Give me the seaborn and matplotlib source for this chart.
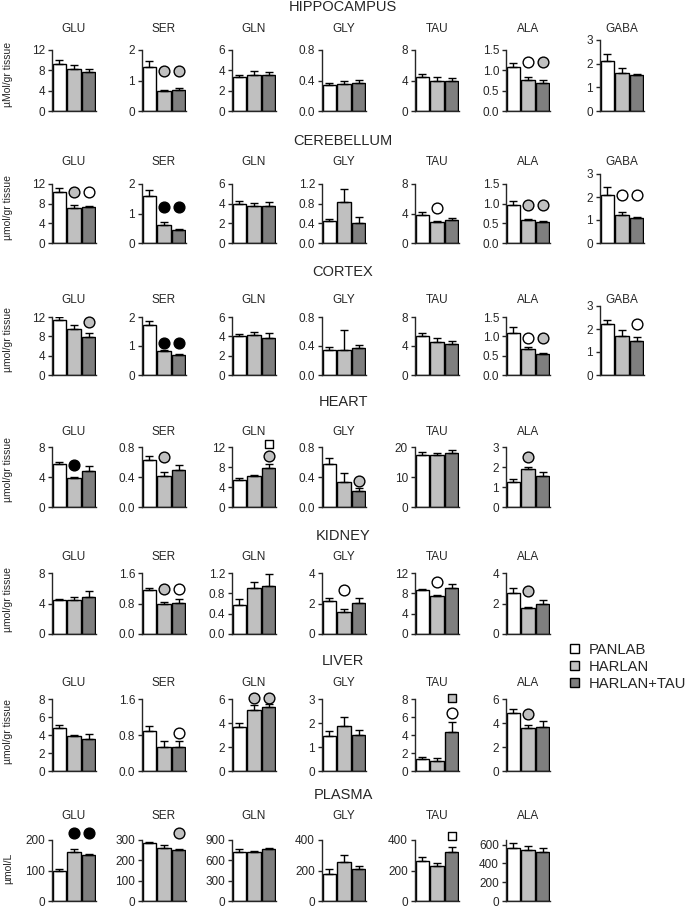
import matplotlib
matplotlib.use("Agg")
import matplotlib.pyplot as plt
import seaborn as sns
from matplotlib.patches import Patch

# ==========================
# Data (mean and SEM per tissue / amino acid)
# ==========================

GROUPS = ["PANLAB", "HARLAN", "HARLAN+TAU"]
COLORS = ["#ffffff", "#c0c0c0", "#7f7f7f"]

TISSUES = ["HIPPOCAMPUS", "CEREBELLUM", "CORTEX", "HEART", "KIDNEY", "LIVER", "PLASMA"]
BRAIN_AA = ["GLU", "SER", "GLN", "GLY", "TAU", "ALA", "GABA"]
BODY_AA = ["GLU", "SER", "GLN", "GLY", "TAU", "ALA"]

HIPPO_MEAN = {"GLU": [9.3, 8.2, 7.6], "SER": [1.45, 0.67, 0.70], "GLN": [3.3, 3.55, 3.5],
              "GLY": [0.34, 0.35, 0.37], "TAU": [4.4, 3.9, 4.0], "ALA": [1.08, 0.76, 0.70],
              "GABA": [2.1, 1.62, 1.52]}
HIPPO_SEM = {"GLU": [0.7, 0.8, 0.6], "SER": [0.2, 0.03, 0.07], "GLN": [0.25, 0.35, 0.35],
             "GLY": [0.03, 0.04, 0.04], "TAU": [0.4, 0.5, 0.3], "ALA": [0.1, 0.07, 0.06],
             "GABA": [0.3, 0.18, 0.05]}

CEREB_MEAN = {"GLU": [10.3, 7.2, 7.4], "SER": [1.6, 0.6, 0.45], "GLN": [4.0, 3.8, 3.8],
              "GLY": [0.44, 0.84, 0.41], "TAU": [3.8, 2.8, 3.1], "ALA": [0.96, 0.58, 0.53],
              "GABA": [2.1, 1.22, 1.1]}
CEREB_SEM = {"GLU": [0.9, 0.6, 0.2], "SER": [0.18, 0.12, 0.03], "GLN": [0.3, 0.3, 0.35],
             "GLY": [0.04, 0.26, 0.12], "TAU": [0.4, 0.2, 0.25], "ALA": [0.1, 0.03, 0.02],
             "GABA": [0.35, 0.13, 0.05]}

CORTEX_MEAN = {"GLU": [11.4, 9.6, 7.9], "SER": [1.72, 0.83, 0.69], "GLN": [4.0, 4.15, 3.8],
               "GLY": [0.34, 0.35, 0.37], "TAU": [5.4, 4.6, 4.3], "ALA": [1.08, 0.67, 0.54],
               "GABA": [2.2, 1.7, 1.5]}
CORTEX_SEM = {"GLU": [0.6, 0.7, 0.7], "SER": [0.13, 0.03, 0.05], "GLN": [0.25, 0.35, 0.5],
              "GLY": [0.05, 0.27, 0.05], "TAU": [0.4, 0.5, 0.4], "ALA": [0.17, 0.05, 0.04],
              "GABA": [0.2, 0.25, 0.15]}

HEART_MEAN = {"GLU": [5.7, 3.9, 4.8], "SER": [0.63, 0.41, 0.50], "GLN": [5.4, 6.2, 7.9],
              "GLY": [0.57, 0.33, 0.22], "TAU": [17.2, 17.5, 18.0], "ALA": [1.25, 1.88, 1.55]}
HEART_SEM = {"GLU": [0.3, 0.1, 0.7], "SER": [0.05, 0.06, 0.06], "GLN": [0.5, 0.3, 0.7],
             "GLY": [0.08, 0.12, 0.04], "TAU": [1.0, 0.6, 0.9], "ALA": [0.13, 0.12, 0.2]}

KIDNEY_MEAN = {"GLU": [4.4, 4.4, 4.9], "SER": [1.15, 0.78, 0.82], "GLN": [0.58, 0.91, 0.95],
               "GLY": [2.15, 1.45, 2.05], "TAU": [8.6, 7.5, 9.0], "ALA": [2.7, 1.7, 1.97]}
KIDNEY_SEM = {"GLU": [0.2, 0.5, 0.7], "SER": [0.05, 0.07, 0.11], "GLN": [0.1, 0.12, 0.24],
              "GLY": [0.23, 0.2, 0.28], "TAU": [0.3, 0.2, 0.9], "ALA": [0.3, 0.08, 0.28]}

LIVER_MEAN = {"GLU": [4.8, 3.9, 3.6], "SER": [0.9, 0.54, 0.54], "GLN": [3.7, 5.1, 5.3],
              "GLY": [1.45, 1.88, 1.48], "TAU": [1.3, 1.15, 4.3], "ALA": [4.8, 3.6, 3.65]}
LIVER_SEM = {"GLU": [0.3, 0.15, 0.5], "SER": [0.1, 0.12, 0.12], "GLN": [0.3, 0.4, 0.3],
             "GLY": [0.23, 0.39, 0.22], "TAU": [0.3, 0.25, 1.2], "ALA": [0.35, 0.2, 0.5]}

PLASMA_MEAN = {"GLU": [97, 160, 150], "SER": [283, 260, 250], "GLN": [720, 720, 765],
               "GLY": [180, 255, 212], "TAU": [262, 230, 322], "ALA": [570, 548, 522]}
PLASMA_SEM = {"GLU": [8, 12, 5], "SER": [7, 13, 6], "GLN": [45, 25, 20],
              "GLY": [30, 45, 20], "TAU": [28, 20, 33], "ALA": [52, 37, 38]}

# y ticks of every panel (last tick = axis top unless YTOP says otherwise)
BRAIN_TICKS = {"GLU": [0, 4, 8, 12], "SER": [0, 1, 2], "GLN": [0, 2, 4, 6],
               "GLY": [0.0, 0.4, 0.8], "TAU": [0, 4, 8], "ALA": [0.0, 0.5, 1.0, 1.5],
               "GABA": [0, 1, 2, 3]}
CEREB_TICKS = dict(BRAIN_TICKS, GLY=[0.0, 0.4, 0.8, 1.2])
HEART_TICKS = {"GLU": [0, 4, 8], "SER": [0.0, 0.4, 0.8], "GLN": [0, 4, 8, 12],
               "GLY": [0.0, 0.4, 0.8], "TAU": [0, 10, 20], "ALA": [0, 1, 2, 3]}
KIDNEY_TICKS = {"GLU": [0, 4, 8], "SER": [0.0, 0.8, 1.6], "GLN": [0.0, 0.4, 0.8, 1.2],
                "GLY": [0, 2, 4], "TAU": [0, 4, 8, 12], "ALA": [0, 2, 4]}
LIVER_TICKS = {"GLU": [0, 2, 4, 6, 8], "SER": [0.0, 0.8, 1.6], "GLN": [0, 2, 4, 6],
               "GLY": [0, 1, 2, 3], "TAU": [0, 2, 4, 6, 8], "ALA": [0, 2, 4, 6]}
PLASMA_TICKS = {"GLU": [0, 100, 200], "SER": [0, 100, 200, 300], "GLN": [0, 300, 600, 900],
                "GLY": [0, 200, 400], "TAU": [0, 200, 400], "ALA": [0, 200, 400, 600]}
YTOP = {("PLASMA", "ALA"): 650}

YLABELS = {"HIPPOCAMPUS": "µMol/gr tissue", "CEREBELLUM": "µmol/gr tissue",
           "CORTEX": "µmol/gr tissue", "HEART": "µmol/gr tissue",
           "KIDNEY": "µmol/gr tissue", "LIVER": "µmol/gr tissue", "PLASMA": "µmol/L"}

# significance symbols: tissue, amino acid, group index, y, shape, fill
MARKS = [
    ("HIPPOCAMPUS", "SER", 1, 1.3, "o", "gray"), ("HIPPOCAMPUS", "SER", 2, 1.3, "o", "gray"),
    ("HIPPOCAMPUS", "ALA", 1, 1.2, "o", "white"), ("HIPPOCAMPUS", "ALA", 2, 1.2, "o", "gray"),
    ("CEREBELLUM", "GLU", 1, 10.3, "o", "gray"), ("CEREBELLUM", "GLU", 2, 10.3, "o", "white"),
    ("CEREBELLUM", "SER", 1, 1.22, "o", "black"), ("CEREBELLUM", "SER", 2, 1.22, "o", "black"),
    ("CEREBELLUM", "TAU", 1, 4.8, "o", "white"),
    ("CEREBELLUM", "ALA", 1, 0.96, "o", "gray"), ("CEREBELLUM", "ALA", 2, 0.96, "o", "gray"),
    ("CEREBELLUM", "GABA", 1, 2.1, "o", "white"), ("CEREBELLUM", "GABA", 2, 2.1, "o", "white"),
    ("CORTEX", "GLU", 2, 11.0, "o", "gray"),
    ("CORTEX", "SER", 1, 1.12, "o", "black"), ("CORTEX", "SER", 2, 1.12, "o", "black"),
    ("CORTEX", "ALA", 1, 0.96, "o", "white"), ("CORTEX", "ALA", 2, 0.96, "o", "gray"),
    ("CORTEX", "GABA", 2, 2.2, "o", "white"),
    ("HEART", "GLU", 1, 5.6, "o", "black"),
    ("HEART", "SER", 1, 0.67, "o", "gray"),
    ("HEART", "GLN", 2, 10.3, "o", "gray"), ("HEART", "GLN", 2, 12.7, "s", "white"),
    ("HEART", "GLY", 2, 0.35, "o", "gray"),
    ("HEART", "ALA", 1, 2.5, "o", "gray"),
    ("KIDNEY", "SER", 1, 1.18, "o", "gray"), ("KIDNEY", "SER", 2, 1.18, "o", "white"),
    ("KIDNEY", "GLY", 1, 2.9, "o", "white"),
    ("KIDNEY", "TAU", 1, 10.2, "o", "white"),
    ("KIDNEY", "ALA", 1, 2.85, "o", "gray"),
    ("LIVER", "SER", 2, 0.85, "o", "white"),
    ("LIVER", "GLN", 1, 6.1, "o", "gray"), ("LIVER", "GLN", 2, 6.1, "o", "gray"),
    ("LIVER", "TAU", 2, 6.4, "o", "white"), ("LIVER", "TAU", 2, 8.1, "s", "gray"),
    ("LIVER", "ALA", 1, 4.75, "o", "gray"),
    ("PLASMA", "GLU", 1, 222, "o", "black"), ("PLASMA", "GLU", 2, 222, "o", "black"),
    ("PLASMA", "SER", 2, 333, "o", "gray"),
    ("PLASMA", "TAU", 2, 428, "s", "white"),
]
FILL = {"white": "#ffffff", "gray": "#c0c0c0", "black": "#000000"}

# ==========================
# Layout (pixels of a 685x907 figure)
# ==========================

W, H = 685, 907
COL_X = [52, 142, 232, 322, 415, 506, 600]
AX_W = 44
# row: (title y, panel label y, top tick y, zero y, GABA top y, y-label centre)
ROWS = {
    "HIPPOCAMPUS": (7, 29, 50, 111, 40, 74),
    "CEREBELLUM": (141, 162, 184, 243, 174, 208),
    "CORTEX": (272, 300, 317, 375, 306, 340),
    "HEART": (402, 432, 447, 507, None, 470),
    "KIDNEY": (536, 557, 573, 634, None, 599),
    "LIVER": (661, 683, 699, 771, None, 731),
    "PLASMA": (795, 816, 840, 901, None, 868),
}
TABLES = {
    "HIPPOCAMPUS": (HIPPO_MEAN, HIPPO_SEM, BRAIN_TICKS),
    "CEREBELLUM": (CEREB_MEAN, CEREB_SEM, CEREB_TICKS),
    "CORTEX": (CORTEX_MEAN, CORTEX_SEM, BRAIN_TICKS),
    "HEART": (HEART_MEAN, HEART_SEM, HEART_TICKS),
    "KIDNEY": (KIDNEY_MEAN, KIDNEY_SEM, KIDNEY_TICKS),
    "LIVER": (LIVER_MEAN, LIVER_SEM, LIVER_TICKS),
    "PLASMA": (PLASMA_MEAN, PLASMA_SEM, PLASMA_TICKS),
}

sns.set_style("ticks")
plt.rcParams["font.family"] = ["Liberation Sans", "DejaVu Sans"]

fig = plt.figure(figsize=(W / 100, H / 100), dpi=100)


def fmt_tick(t, ticks):
    if any(float(v) != int(v) for v in ticks):
        return f"{t:.1f}"
    return f"{int(t)}"


for tissue in TISSUES:
    title_y, label_y, top_y, zero_y, gaba_top, ylab_y = ROWS[tissue]
    means, sems, ticks_all = TABLES[tissue]
    aas = BRAIN_AA if tissue in ("HIPPOCAMPUS", "CEREBELLUM", "CORTEX") else BODY_AA

    fig.text(343 / W, 1 - title_y / H, tissue, ha="center", va="center", fontsize=10.5)
    fig.text(8 / W, 1 - ylab_y / H, YLABELS[tissue], rotation=90,
             ha="center", va="center", fontsize=7.5)

    for i, aa in enumerate(aas):
        ticks = ticks_all[aa]
        top = gaba_top if aa == "GABA" else top_y
        ax = fig.add_axes([COL_X[i] / W, 1 - zero_y / H, AX_W / W, (zero_y - top) / H])

        vals = means[aa]
        sns.barplot(x=GROUPS, y=vals, hue=GROUPS, palette=COLORS, legend=False,
                    edgecolor="black", linewidth=1, width=0.9, errorbar=None, ax=ax)
        ax.errorbar(range(3), vals, yerr=[[0, 0, 0], sems[aa]], fmt="none",
                    ecolor="black", elinewidth=1, capsize=3, capthick=1, zorder=1)

        ax.set_xlim(-0.5, 2.5)
        ax.set_ylim(0, YTOP.get((tissue, aa), ticks[-1]))
        ax.set_yticks(ticks)
        ax.set_yticklabels([fmt_tick(t, ticks) for t in ticks], fontsize=8.5)
        ax.set_xticks([])
        ax.set_xlabel("")
        ax.set_ylabel("")
        ax.tick_params(axis="y", length=3, width=1, pad=2)
        sns.despine(ax=ax)
        for sp in ("left", "bottom"):
            ax.spines[sp].set_linewidth(1)

        for m in MARKS:
            if m[0] == tissue and m[1] == aa:
                size = 60 if m[4] == "o" else 32
                ax.scatter([m[2]], [m[3]], s=size, marker=m[4], facecolor=FILL[m[5]],
                           edgecolor="black", linewidth=1, clip_on=False, zorder=5)

        fig.text((COL_X[i] + AX_W / 2) / W, 1 - label_y / H, aa, ha="center",
                 va="center", fontsize=8.5)

# ==========================
# Legend
# ==========================

handles = [Patch(facecolor=c, edgecolor="black", linewidth=1) for c in COLORS]
fig.legend(handles, GROUPS, loc="upper left", bbox_to_anchor=(570 / W, 1 - 643 / H),
           frameon=False, fontsize=10.6, handlelength=0.6, handleheight=0.6,
           handletextpad=0.7, labelspacing=0.2, borderaxespad=0, borderpad=0)

fig.savefig("out.png", dpi=100)
